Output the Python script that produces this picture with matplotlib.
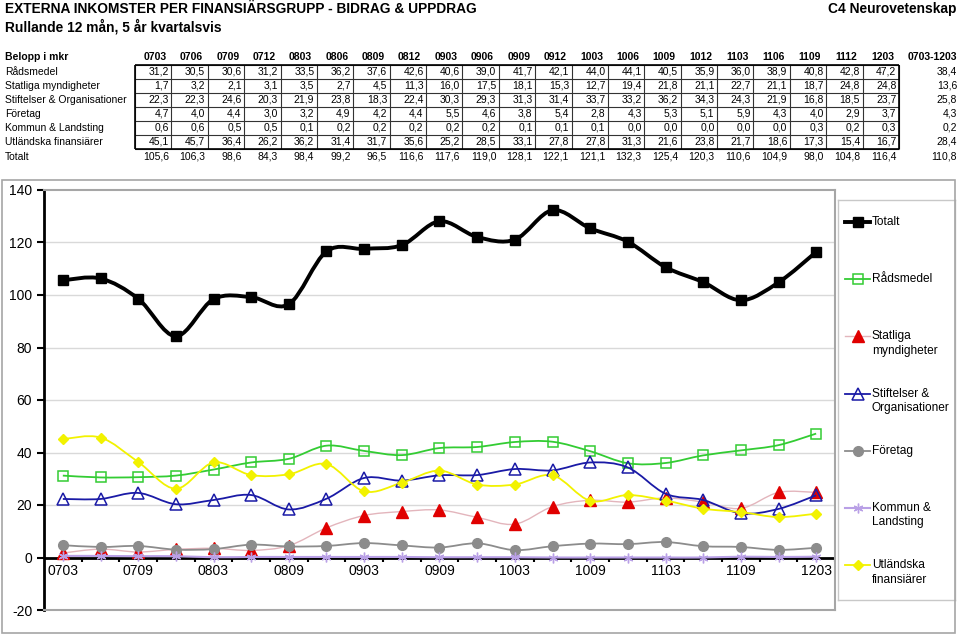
import numpy as np
import matplotlib.pyplot as plt
from matplotlib.path import Path
from matplotlib.patches import PathPatch, Rectangle
from matplotlib.lines import Line2D
import matplotlib.transforms as mtransforms

plt.rcParams['font.family'] = ['Liberation Sans', 'DejaVu Sans']
plt.rcParams['axes.unicode_minus'] = False

# Data
periods = ['0703', '0706', '0709', '0712', '0803', '0806', '0809', '0812', '0903', '0906', '0909',
           '0912', '1003', '1006', '1009', '1012', '1103', '1106', '1109', '1112', '1203']
radsmedel = [31.2, 30.5, 30.6, 31.2, 33.5, 36.2, 37.6, 42.6, 40.6, 39.0, 41.7,
             42.1, 44.0, 44.1, 40.5, 35.9, 36.0, 38.9, 40.8, 42.8, 47.2]
statliga = [1.7, 3.2, 2.1, 3.1, 3.5, 2.7, 4.5, 11.3, 16.0, 17.5, 18.1,
            15.3, 12.7, 19.4, 21.8, 21.1, 22.7, 21.1, 18.7, 24.8, 24.8]
stiftelser = [22.3, 22.3, 24.6, 20.3, 21.9, 23.8, 18.3, 22.4, 30.3, 29.3, 31.3,
              31.4, 33.7, 33.2, 36.2, 34.3, 24.3, 21.9, 16.8, 18.5, 23.7]
foretag = [4.7, 4.0, 4.4, 3.0, 3.2, 4.9, 4.2, 4.4, 5.5, 4.6, 3.8,
           5.4, 2.8, 4.3, 5.3, 5.1, 5.9, 4.3, 4.0, 2.9, 3.7]
kommun = [0.6, 0.6, 0.5, 0.5, 0.1, 0.2, 0.2, 0.2, 0.2, 0.2, 0.1,
          0.1, 0.1, 0.0, 0.0, 0.0, 0.0, 0.0, 0.3, 0.2, 0.3]
utlandska = [45.1, 45.7, 36.4, 26.2, 36.2, 31.4, 31.7, 35.6, 25.2, 28.5, 33.1,
             27.8, 27.8, 31.3, 21.6, 23.8, 21.7, 18.6, 17.3, 15.4, 16.7]
totalt = [105.6, 106.3, 98.6, 84.3, 98.4, 99.2, 96.5, 116.6, 117.6, 119.0, 128.1,
          122.1, 121.1, 132.3, 125.4, 120.3, 110.6, 104.9, 98.0, 104.8, 116.4]
summary = [38.4, 13.6, 25.8, 4.3, 0.2, 28.4, 110.8]

row_names = ['Rådsmedel', 'Statliga myndigheter', 'Stiftelser & Organisationer', 'Företag',
             'Kommun & Landsting', 'Utländska finansiärer', 'Totalt']
table_rows = [radsmedel, statliga, stiftelser, foretag, kommun, utlandska, totalt]


def fmt(v):
    return f"{v:.1f}".replace('.', ',')


def smooth_path(x, y):
    # Excel-like smoothed line as cubic Bezier segments through the data points
    pts = np.column_stack([x, y]).astype(float)
    n = len(pts)
    verts = [pts[0]]
    codes = [Path.MOVETO]
    for i in range(n - 1):
        p0 = pts[max(i - 1, 0)]
        p1 = pts[i]
        p2 = pts[i + 1]
        p3 = pts[min(i + 2, n - 1)]
        c1 = p1 + (p2 - p0) / 6.0
        c2 = p2 - (p3 - p1) / 6.0
        verts += [c1, c2, p2]
        codes += [Path.CURVE4] * 3
    return Path(verts, codes)


fig = plt.figure(figsize=(9.6, 6.35), dpi=100)

# Titles
fig.text(5 / 960, 1 - 9 / 635, 'EXTERNA INKOMSTER PER FINANSIÄRSGRUPP - BIDRAG & UPPDRAG',
         fontsize=9.9, fontweight='bold', va='center', ha='left')
fig.text(5 / 960, 1 - 27 / 635, 'Rullande 12 mån, 5 år kvartalsvis',
         fontsize=9.9, fontweight='bold', va='center', ha='left')
fig.text(956 / 960, 1 - 9 / 635, 'C4 Neurovetenskap',
         fontsize=9.9, fontweight='bold', va='center', ha='right')

# Table
tab = fig.add_axes([135 / 960, 1 - 149 / 635, 764 / 960, 84 / 635])
tab.set_xlim(0, 21)
tab.set_ylim(6, 0)
tab.axis('off')
blend = mtransforms.blended_transform_factory(fig.transFigure, tab.transData)
tab.text(5 / 960, -0.55, 'Belopp i mkr', transform=blend, fontsize=7.5, fontweight='bold',
         ha='left', va='center')
for c, p in enumerate(periods):
    tab.text(c + 0.55, -0.55, p, fontsize=7.5, fontweight='bold', ha='center', va='center')
tab.text(957 / 960, -0.55, '0703-1203', transform=blend, fontsize=7.5, fontweight='bold',
         ha='right', va='center')
for r, (name, vals) in enumerate(zip(row_names, table_rows)):
    yy = r + 0.5 if r < 6 else 6.55
    tab.text(5 / 960, yy, name, transform=blend, fontsize=7.5, ha='left', va='center')
    for c, v in enumerate(vals):
        tab.text(c + 0.93, yy, fmt(v), fontsize=7.5, ha='right', va='center')
    tab.text(957 / 960, yy, fmt(summary[r]), transform=blend, fontsize=7.5,
             ha='right', va='center')
tab.hlines(np.arange(7), 0, 21, color='#333333', lw=0.8, clip_on=False)
tab.vlines(np.arange(22), 0, 6, color='#333333', lw=0.8, clip_on=False)
tab.hlines([0, 6], 0, 21, color='black', lw=1.2, clip_on=False)
tab.vlines([0, 21], 0, 6, color='black', lw=1.2, clip_on=False)

# Chart area frame
fig.patches.append(Rectangle((2 / 960, 2 / 635), 953 / 960, 453 / 635, transform=fig.transFigure,
                             fill=False, edgecolor='#A6A6A6', lw=1.2))

ax = fig.add_axes([44 / 960, 1 - 610 / 635, 791 / 960, 420 / 635])
x = np.arange(len(periods))

series = [
    ('Totalt', totalt, dict(color='black', lw=2.8, marker='s', ms=6.5, mfc='black', mec='black'), 9),
    ('Rådsmedel', radsmedel, dict(color='#33CC33', lw=1.3, marker='s', ms=7, mfc='none', mec='#33CC33', mew=1.1), 4),
    ('Statliga\nmyndigheter', statliga, dict(color='#E3B5BC', lw=1.0, marker='^', ms=8, mfc='#E00000', mec='#E00000'), 3),
    ('Stiftelser &\nOrganisationer', stiftelser, dict(color='#1A1AA6', lw=1.3, marker='^', ms=8, mfc='none', mec='#1A1AA6', mew=1.1), 5),
    ('Företag', foretag, dict(color='#8C8C8C', lw=1.3, marker='o', ms=7, mfc='#8C8C8C', mec='#8C8C8C'), 4),
    ('Kommun &\nLandsting', kommun, dict(color='#B9A0E6', lw=1.5, marker=(6, 2, 0), ms=7, mfc='#B9A0E6', mec='#B9A0E6', mew=1.0), 6),
    ('Utländska\nfinansiärer', utlandska, dict(color='#F2F200', lw=1.3, marker='D', ms=5.5, mfc='#F2F200', mec='#F2F200'), 5),
]

ax.set_xlim(-0.5, len(periods) - 0.5)
ax.set_ylim(-20, 140)
ax.set_yticks(np.arange(-20, 141, 20))
ax.set_xticks([])
for yv in range(20, 140, 20):
    ax.axhline(yv, color='#D9D9D9', lw=1.0, zorder=0)
ax.axhline(0, color='black', lw=2.0, zorder=1)
bounds = np.arange(len(periods)) + 0.5
ax.vlines(bounds, -1.9, 0, color='black', lw=1.5, zorder=1)
for i in range(0, len(periods), 2):
    ax.text(x[i], -2.6, periods[i], ha='center', va='top', fontsize=10)

for label, vals, st, z in series:
    ax.add_patch(PathPatch(smooth_path(x, vals), fill=False, edgecolor=st['color'], lw=st['lw'], zorder=z))
    ax.plot(x, vals, ls='none', marker=st['marker'], ms=st['ms'], mfc=st['mfc'], mec=st['mec'],
            mew=st.get('mew', 1.0), zorder=z + 0.5)

for side in ['top', 'right', 'bottom']:
    ax.spines[side].set_color('#A6A6A6')
    ax.spines[side].set_linewidth(1.5)
ax.spines['left'].set_color('black')
ax.spines['left'].set_linewidth(2.0)
ax.tick_params(axis='y', direction='out', length=5, width=1.5, labelsize=10, colors='black')

# Legend (Excel style: handle level with the first text line)
lax = fig.add_axes([838 / 960, 1 - 600 / 635, 117 / 960, 400 / 635])
lax.set_xlim(0, 117)
lax.set_ylim(400, 0)
lax.set_xticks([])
lax.set_yticks([])
for s in lax.spines.values():
    s.set_color('#C8C8C8')
    s.set_linewidth(1.0)
for k, (label, vals, st, z) in enumerate(series):
    yk = 22 + 57.2 * k
    lax.add_line(Line2D([7, 32], [yk, yk], color=st['color'], lw=st['lw']))
    lax.add_line(Line2D([19.5], [yk], ls='none', marker=st['marker'], ms=st['ms'], mfc=st['mfc'],
                        mec=st['mec'], mew=st.get('mew', 1.0)))
    for j, line in enumerate(label.split('\n')):
        lax.text(34, yk + 14.5 * j, line, fontsize=8.6, ha='left', va='center')

fig.savefig('out.png', dpi=100)
